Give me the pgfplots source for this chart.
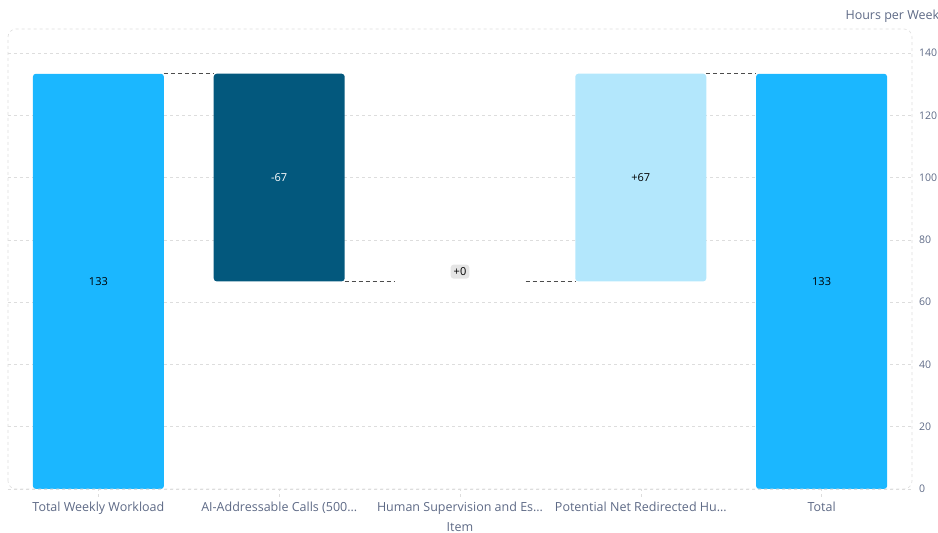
\documentclass[border=0pt]{standalone}
\usepackage{pgfplots}
\pgfplotsset{compat=1.18}
\usepackage{fontspec}
\setmainfont{Open Sans}
\definecolor{tickc}{HTML}{5E6A86}
\definecolor{cTotal}{HTML}{1BB7FF}
\definecolor{cDark}{HTML}{03587D}
\definecolor{cLight}{HTML}{B3E7FC}
\definecolor{gridc}{HTML}{DDDDDD}
\begin{document}
\begin{tikzpicture}
\path[use as bounding box] (-8pt,-44pt) rectangle (930pt,489pt);
\clip (-8pt,-44pt) rectangle (930pt,489pt);
\begin{axis}[
  scale only axis,
  width=904pt, height=460pt,
  xmin=-0.5, xmax=4.5, ymin=0, ymax=147.7,
  axis line style={draw=none},
  ybar stacked, bar width=131pt,
  xtick={0,1,2,3,4},
  xticklabels={Total Weekly Workload, AI-Addressable Calls (500\ldots, Human Supervision and Es\ldots, Potential Net Redirected Hu\ldots, Total},
  ytick={0,20,40,60,80,100,120,140},
  yticklabel pos=right,
  xtick pos=left,
  ymajorgrids,
  major grid style={dashed, draw=gridc, line width=0.6pt},
  ytick style={draw=none},
  xtick style={draw=gridc, dashed, line width=0.6pt},
  tick align=outside,
  major tick length=8pt,
  xticklabel style={font=\fontsize{12.5}{14}\selectfont, text=tickc, yshift=-1pt},
  yticklabel style={font=\fontsize{10.5}{13}\selectfont, text=tickc, anchor=west, inner sep=0pt, xshift=-1pt},
  /pgf/number format/assume math mode=true,
  clip=false,
]
\draw[dashed, draw=gridc, line width=0.6pt, rounded corners=8pt] (rel axis cs:0,0) rectangle (rel axis cs:1,1);
\addplot[fill=none, draw=none] coordinates {(0,0) (1,66.67) (2,66.67) (3,66.67) (4,0)};
\addplot[fill=cTotal, draw=none, rounded corners=3pt] coordinates {(0,133.33) (1,0) (2,0) (3,0) (4,133.33)};
\addplot[fill=cDark, draw=none, rounded corners=3pt] coordinates {(0,0) (1,66.67) (2,0) (3,0) (4,0)};
\addplot[fill=cLight, draw=none, rounded corners=3pt] coordinates {(0,0) (1,0) (2,0) (3,66.67) (4,0)};
\end{axis}
\begin{axis}[
  scale only axis,
  width=904pt, height=460pt,
  xmin=-0.5, xmax=4.5, ymin=0, ymax=147.7,
  hide axis, clip=false,
]
\addplot[draw=black!70, dash pattern=on 4pt off 3pt, line width=0.7pt] coordinates {(0.3623,133.33) (0.6377,133.33)};
\addplot[draw=black!70, dash pattern=on 4pt off 3pt, line width=0.7pt] coordinates {(1.3623,66.67) (1.6377,66.67)};
\addplot[draw=black!70, dash pattern=on 4pt off 3pt, line width=0.7pt] coordinates {(2.3623,66.67) (2.6377,66.67)};
\addplot[draw=black!70, dash pattern=on 4pt off 3pt, line width=0.7pt] coordinates {(3.3623,133.33) (3.6377,133.33)};
\node[font=\fontsize{11}{13}\selectfont, text=black] at (axis cs:0,66.67) {133};
\node[font=\fontsize{11}{13}\selectfont, text=white] at (axis cs:1,100) {-67};
\node[font=\fontsize{11}{13}\selectfont, text=black] at (axis cs:3,100) {+67};
\node[font=\fontsize{11}{13}\selectfont, text=black] at (axis cs:4,66.67) {133};
\node[font=\fontsize{11}{13}\selectfont, text=black, fill=black!10, rounded corners=3pt, inner sep=3pt, anchor=south, yshift=2.5pt] at (axis cs:2,66.67) {+0};
\end{axis}
\node[anchor=west, font=\fontsize{12.5}{14}\selectfont, text=tickc] at (834pt,473pt) {Hours per Week};
\node[font=\fontsize{12.5}{14}\selectfont, text=tickc] at (452pt,-38pt) {Item};
\end{tikzpicture}
\end{document}
